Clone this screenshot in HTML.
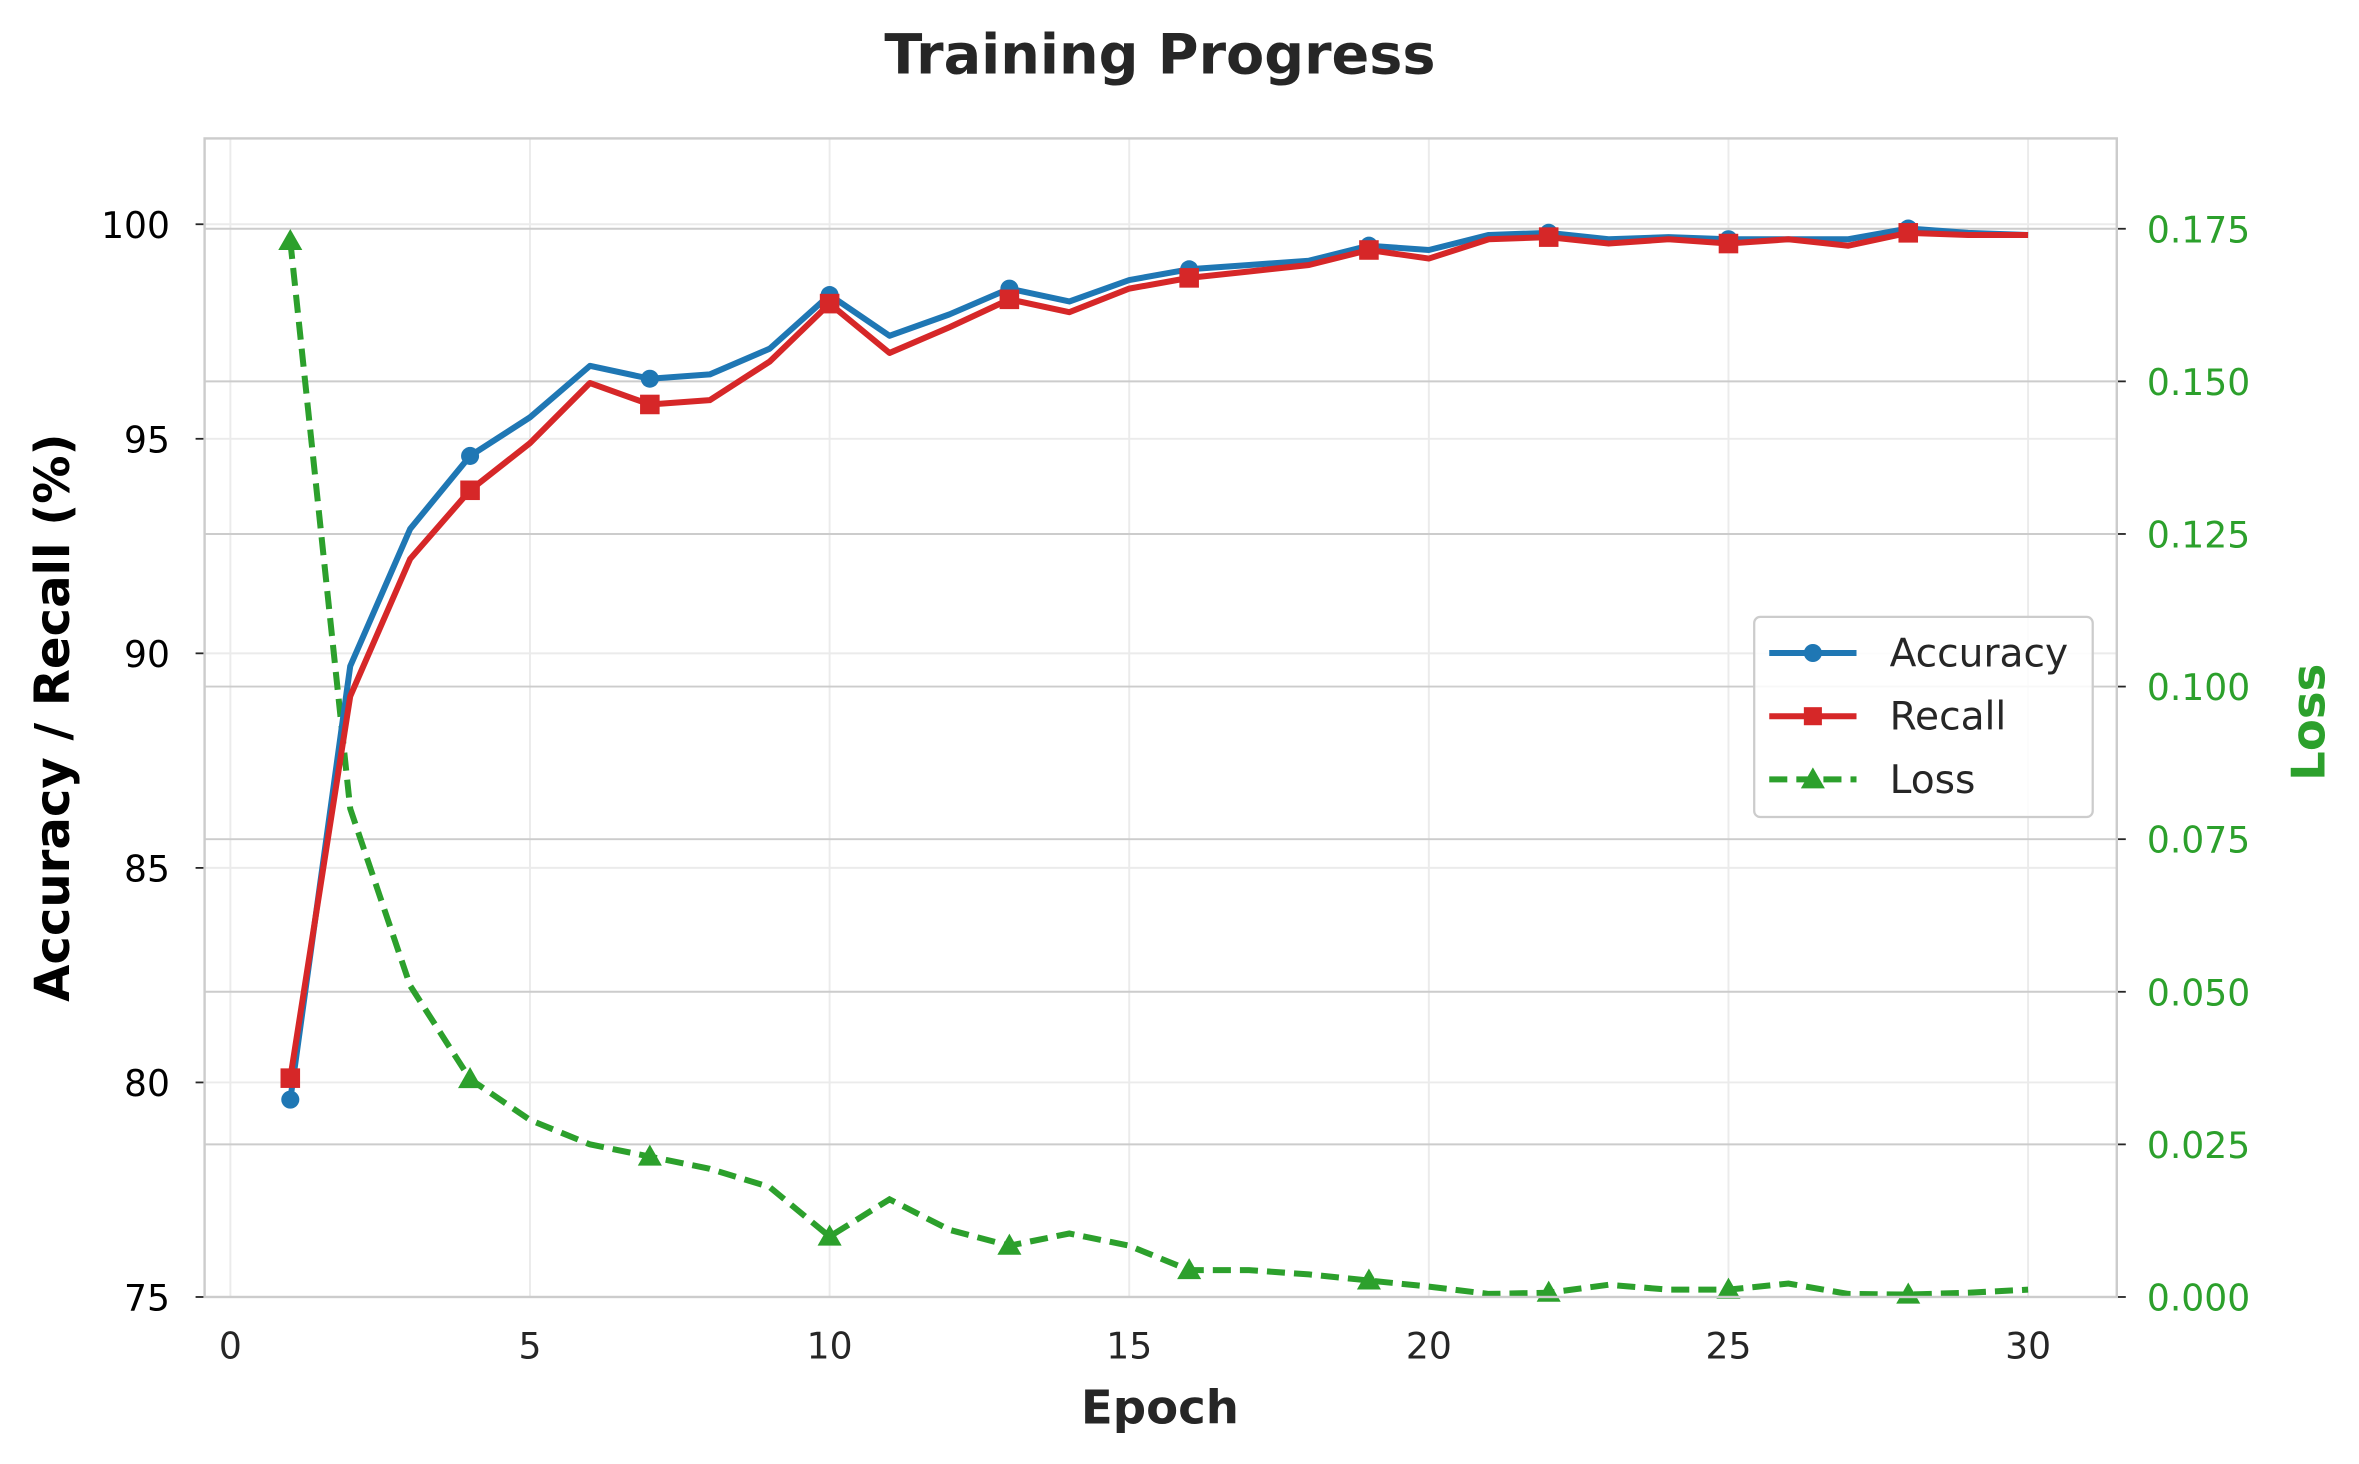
<!DOCTYPE html>
<html><head><meta charset="utf-8"><style>
html,body{margin:0;padding:0;background:#fff;}
svg{display:block;font-family:"DejaVu Sans","Liberation Sans",sans-serif;}
</style></head><body>
<svg id="chart" width="2359" height="1464" viewBox="0 0 1568 973" preserveAspectRatio="none" xmlns="http://www.w3.org/2000/svg">
<rect width="1568" height="973" fill="#fff"/>
<g id="grid"></g>
<g id="series"></g>
<g id="axes"></g>
<text x="771" y="49" text-anchor="middle" font-size="37" font-weight="bold" fill="#262626">Training Progress</text>
<text x="771" y="946" text-anchor="middle" font-size="31" font-weight="bold" fill="#262626">Epoch</text>
<text transform="translate(46,477) rotate(-90)" text-anchor="middle" font-size="32" font-weight="bold" fill="#000">Accuracy / Recall (%)</text>
<text transform="translate(1545,480) rotate(-90)" text-anchor="middle" font-size="31" font-weight="bold" fill="#2ca02c">Loss</text>
<g>
<rect x="1166" y="410" width="225" height="133" rx="4" fill="#fff" fill-opacity="0.85" stroke="#ccc" stroke-width="1.5"/>
<g><line x1="1176" y1="434" x2="1234" y2="434" stroke="#1f77b4" stroke-width="4"/><circle cx="1205" cy="434" r="6" fill="#1f77b4"/><text x="1256" y="443" font-size="26" fill="#262626">Accuracy</text></g>
<g><line x1="1176" y1="476" x2="1234" y2="476" stroke="#d62728" stroke-width="4"/><rect x="1199" y="470" width="12" height="12" fill="#d62728"/><text x="1256" y="485" font-size="26" fill="#262626">Recall</text></g>
<g><line x1="1176" y1="518" x2="1234" y2="518" stroke="#2ca02c" stroke-width="4" stroke-dasharray="12,6"/><polygon points="1205,510 1213,524 1197,524" fill="#2ca02c"/><text x="1256" y="527" font-size="26" fill="#262626">Loss</text></g>
</g>
</svg>
<script>
const epochs=[1,2,3,4,5,6,7,8,9,10,11,12,13,14,15,16,17,18,19,20,21,22,23,24,25,26,27,28,29,30];
const accuracy=[79.6,89.7,92.9,94.6,95.5,96.7,96.4,96.5,97.1,98.35,97.4,97.9,98.5,98.2,98.7,98.95,99.05,99.15,99.5,99.4,99.75,99.8,99.65,99.7,99.65,99.65,99.65,99.9,99.8,99.75];
const recall=[80.1,89.0,92.2,93.8,94.9,96.3,95.8,95.9,96.8,98.15,97.0,97.6,98.25,97.95,98.5,98.75,98.9,99.05,99.4,99.2,99.65,99.7,99.55,99.65,99.55,99.65,99.5,99.8,99.75,99.75];
const loss=[0.173,0.080,0.051,0.0357,0.029,0.025,0.023,0.021,0.018,0.0099,0.016,0.011,0.0084,0.0104,0.0084,0.0044,0.0044,0.0037,0.0027,0.0017,0.0005,0.0007,0.002,0.0012,0.0012,0.0022,0.0005,0.0004,0.0007,0.0012];
const xTicks=[0,5,10,15,20,25,30];
const yLeftTicks=[75,80,85,90,95,100];
const yRightTicks=[0,0.025,0.05,0.075,0.1,0.125,0.15,0.175];
const markAcc=[1,4,7,10,13,16,19,22,25,28];
const L=136,R=1407,T=92,B=862;
const xMin=-0.43,xMax=31.48,yMin=75,yMax=102,rMin=0,rMax=0.1898;
const X=v=>L+(v-xMin)/(xMax-xMin)*(R-L);
const Y=v=>B-(v-yMin)/(yMax-yMin)*(B-T);
const YR=v=>B-(v-rMin)/(rMax-rMin)*(B-T);
const NS='http://www.w3.org/2000/svg';
function mk(tag,attrs,parent){const e=document.createElementNS(NS,tag);for(const k in attrs)e.setAttribute(k,attrs[k]);parent.appendChild(e);return e;}
const grid=document.getElementById('grid'),series=document.getElementById('series'),axes=document.getElementById('axes');
xTicks.forEach(t=>{
 const g=mk('line',{x1:X(t),x2:X(t),y1:T,y2:B,stroke:'#ebebeb','stroke-width':1.3},grid);
 
 
 const tx=mk('text',{x:X(t),y:B+41,'text-anchor':'middle','font-size':24,fill:'#262626'},axes);
 tx.textContent=String(t);
 
 
});
yLeftTicks.forEach(t=>{
 const g=mk('line',{x1:L,x2:R,y1:Y(t),y2:Y(t),stroke:'#ebebeb','stroke-width':1.3},grid);
 
 
 mk('line',{x1:L-6,x2:L,y1:Y(t),y2:Y(t),stroke:'#262626','stroke-width':1.2},axes);
 const tx=mk('text',{x:L-23,y:Y(t)+9,'text-anchor':'end','font-size':24,fill:'#000'},axes);
 tx.textContent=String(t);
 
 
});
yRightTicks.forEach(t=>{
 const g=mk('line',{x1:L,x2:R,y1:YR(t),y2:YR(t),stroke:'#cccccc','stroke-width':1.3},grid);
 
 
 mk('line',{x1:R,x2:R+6,y1:YR(t),y2:YR(t),stroke:'#262626','stroke-width':1.2},axes);
 const tx=mk('text',{x:R+20,y:YR(t)+9,'font-size':24,fill:'#2ca02c'},axes);
 tx.textContent=t.toFixed(3);
 
 
});
const frame=mk('rect',{x:L,y:T,width:R-L,height:B-T,fill:'none',stroke:'#cccccc','stroke-width':1.6},axes);


function pts(arr,fy){return epochs.map((e,i)=>X(e)+','+fy(arr[i])).join(' ');}
const lossLine=mk('polyline',{points:pts(loss,YR),fill:'none',stroke:'#2ca02c','stroke-width':4,'stroke-dasharray':'12,6'},series);


const accLine=mk('polyline',{points:pts(accuracy,Y),fill:'none',stroke:'#1f77b4','stroke-width':4,'stroke-linejoin':'round'},series);


const recLine=mk('polyline',{points:pts(recall,Y),fill:'none',stroke:'#d62728','stroke-width':4,'stroke-linejoin':'round'},series);


epochs.forEach((e,i)=>{
 if(!markAcc.includes(e))return;
 const c=mk('circle',{cx:X(e),cy:Y(accuracy[i]),r:6,fill:'#1f77b4'},series);
 
 
 const s=mk('rect',{x:X(e)-6.5,y:Y(recall[i])-6.5,width:13,height:13,fill:'#d62728'},series);
 
 
 const x0=X(e),y0=YR(loss[i]);
 const p=mk('polygon',{points:`${x0},${y0-8} ${x0+8},${y0+6} ${x0-8},${y0+6}`,fill:'#2ca02c'},series);
 
 
});
</script>
</body></html>
